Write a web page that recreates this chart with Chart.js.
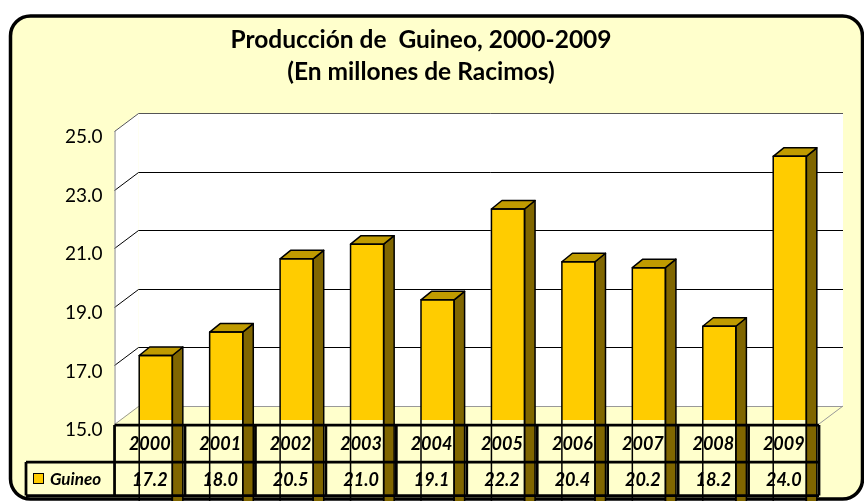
<!DOCTYPE html>
<html>
<head>
<meta charset="utf-8">
<script src="https://cdn.jsdelivr.net/npm/chart.js@4.4.1/dist/chart.umd.min.js"></script>
<style>
  html, body { margin: 0; padding: 0; background: #ffffff; }
  canvas { display: block; }
</style>
</head>
<body>
<canvas id="c" width="864" height="501"></canvas>
<script>
const categories = ['2000', '2001', '2002', '2003', '2004', '2005', '2006', '2007', '2008', '2009'];
const guineo = [17.2, 18.0, 20.5, 21.0, 19.1, 22.2, 20.4, 20.2, 18.2, 24.0];
const yTickValues = [15, 17, 19, 21, 23, 25];
const seriesName = 'Guineo';
const titleLines = ['Producción de  Guineo, 2000-2009', '(En millones de Racimos)'];

const FONT = 'Lato, "Open Sans", "DejaVu Sans", sans-serif';
const DEPTH = { x: 24, y: -18 };      // wall depth
const BAR_SHIFT = { x: 6, y: -4 };    // bar front face position in depth
const BAR_DEPTH = { x: 10.5, y: -8.5 };
const BG = '#FFFFCC';

function roundRect(ctx, x, y, w, h, r) {
  ctx.beginPath();
  ctx.moveTo(x + r, y);
  ctx.lineTo(x + w - r, y);
  ctx.arcTo(x + w, y, x + w, y + r, r);
  ctx.lineTo(x + w, y + h - r);
  ctx.arcTo(x + w, y + h, x + w - r, y + h, r);
  ctx.lineTo(x + r, y + h);
  ctx.arcTo(x, y + h, x, y + h - r, r);
  ctx.lineTo(x, y + r);
  ctx.arcTo(x, y, x + r, y, r);
  ctx.closePath();
}

const scenePlugin = {
  id: 'scene',
  beforeDraw(chart) {
    const ctx = chart.ctx;
    const ca = chart.chartArea;
    const ys = chart.scales.y;
    ctx.save();
    ctx.fillStyle = '#ffffff';
    ctx.fillRect(0, 0, chart.width, chart.height);
    roundRect(ctx, 10.5, 16, 852, 483, 20);
    ctx.fillStyle = BG;
    ctx.fill();
    ctx.lineWidth = 3.5;
    ctx.strokeStyle = '#000';
    ctx.stroke();

    const L = ca.left, R = ca.right, T = ca.top, B = ca.bottom;
    const dx = DEPTH.x, dy = DEPTH.y;
    ctx.fillStyle = '#ffffff';
    ctx.beginPath();
    ctx.moveTo(L, T); ctx.lineTo(L + dx, T + dy); ctx.lineTo(L + dx, B + dy); ctx.lineTo(L, B);
    ctx.closePath(); ctx.fill();
    ctx.fillRect(L + dx, T + dy, R - L, B - T);
    ctx.fillStyle = BG;
    ctx.beginPath();
    ctx.moveTo(L, B); ctx.lineTo(L + dx, B + dy); ctx.lineTo(R + dx, B + dy); ctx.lineTo(R, B);
    ctx.closePath(); ctx.fill();

    ctx.lineWidth = 1;
    yTickValues.forEach(v => {
      const y = Math.round(ys.getPixelForValue(v)) + 0.5;
      ctx.strokeStyle = (v === yTickValues[0]) ? '#999999' : (v === yTickValues[yTickValues.length - 1] ? '#555555' : '#000000');
      ctx.beginPath();
      ctx.moveTo(L, y);
      ctx.lineTo(L + dx, y + dy);
      ctx.lineTo(R + dx, y + dy);
      ctx.stroke();
    });
    ctx.strokeStyle = '#999999';
    ctx.beginPath();
    ctx.moveTo(R, B); ctx.lineTo(R + dx, B + dy);
    ctx.stroke();
    ctx.strokeStyle = '#8c8c8c';
    ctx.beginPath();
    ctx.moveTo(L + 0.5, T); ctx.lineTo(L + 0.5, B);
    ctx.stroke();
    ctx.restore();
  },
  beforeDatasetDraw(chart) {
    chart.ctx.save();
    chart.ctx.translate(BAR_SHIFT.x, BAR_SHIFT.y);
  },
  afterDatasetDraw(chart, args) {
    const ctx = chart.ctx;
    const meta = chart.getDatasetMeta(args.index);
    ctx.lineWidth = 1.5;
    ctx.strokeStyle = '#000';
    ctx.lineJoin = 'round';
    meta.data.forEach(el => {
      const p = el.getProps(['x', 'y', 'base', 'width'], true);
      const xl = p.x - p.width / 2, xr = p.x + p.width / 2;
      const yt = Math.min(p.y, p.base), yb = Math.max(p.y, p.base);
      const dx = BAR_DEPTH.x, dy = BAR_DEPTH.y;
      ctx.fillStyle = '#806600';
      ctx.beginPath();
      ctx.moveTo(xr, yt); ctx.lineTo(xr + dx, yt + dy); ctx.lineTo(xr + dx, yb + dy); ctx.lineTo(xr, yb);
      ctx.closePath(); ctx.fill(); ctx.stroke();
      ctx.fillStyle = '#C09B00';
      ctx.beginPath();
      ctx.moveTo(xl, yt); ctx.lineTo(xl + dx, yt + dy); ctx.lineTo(xr + dx, yt + dy); ctx.lineTo(xr, yt);
      ctx.closePath(); ctx.fill(); ctx.stroke();
      ctx.strokeRect(xl, yt, p.width, yb - yt);
    });
    ctx.restore();
  },
  afterDraw(chart) {
    const ctx = chart.ctx;
    const ca = chart.chartArea;
    const n = categories.length;
    const step = (ca.right - ca.left) / n;
    const r1t = ca.bottom + 1, r1b = 462, r2b = 495.5;
    const legendLeft = 26;
    ctx.save();
    ctx.strokeStyle = '#000';
    ctx.lineWidth = 2.75;
    ctx.beginPath();
    ctx.moveTo(ca.left, r1t); ctx.lineTo(ca.right, r1t);
    ctx.moveTo(legendLeft, r1b); ctx.lineTo(ca.right, r1b);
    ctx.moveTo(legendLeft, r2b); ctx.lineTo(ca.right, r2b);
    ctx.moveTo(legendLeft, r1b); ctx.lineTo(legendLeft, r2b);
    for (let i = 0; i <= n; i++) {
      const x = ca.left + i * step;
      ctx.moveTo(x, r1t); ctx.lineTo(x, r2b);
    }
    ctx.stroke();

    ctx.fillStyle = '#000';
    ctx.font = 'italic bold 18px ' + FONT;
    ctx.textAlign = 'center';
    ctx.textBaseline = 'middle';
    const xs = chart.scales.x;
    categories.forEach((c, i) => {
      const x = xs.getPixelForValue(i);
      ctx.fillText(c, x, (r1t + r1b) / 2 + 1);
      ctx.fillText(guineo[i].toFixed(1), x, (r1b + r2b) / 2 + 1);
    });
    ctx.fillStyle = '#FFCC00';
    ctx.fillRect(33.5, 473.5, 10, 10);
    ctx.lineWidth = 1;
    ctx.strokeRect(33.5, 473.5, 10, 10);
    ctx.fillStyle = '#000';
    ctx.textAlign = 'left';
    ctx.font = 'italic bold 17px ' + FONT;
    ctx.fillText(seriesName, 50, (r1b + r2b) / 2 + 1);
    ctx.restore();
  }
};

new Chart(document.getElementById('c'), {
  type: 'bar',
  data: {
    labels: categories,
    datasets: [{
      label: seriesName,
      data: guineo,
      xAxisID: 'x',
      yAxisID: 'y',
      backgroundColor: '#FFCC00',
      borderColor: '#000000',
      borderWidth: 0,
      borderSkipped: false,
      barPercentage: 0.47,
      categoryPercentage: 1.0
    }]
  },
  options: {
    responsive: false,
    animation: false,
    devicePixelRatio: 1,
    layout: { padding: { left: 23, right: 45, top: 0, bottom: 77 } },
    plugins: {
      legend: { display: false },
      tooltip: { enabled: false },
      title: {
        display: true,
        text: titleLines,
        color: '#000',
        font: { family: FONT, size: 24.5, weight: 'bold', lineHeight: '32px' },
        padding: { top: 24, bottom: 43 }
      }
    },
    scales: {
      x: { display: false },
      y: {
        position: 'left',
        weight: 0,
        min: 15,
        max: 25,
        afterBuildTicks(scale) { scale.ticks = yTickValues.map(v => ({ value: v })); },
        grid: { display: false },
        border: { display: false },
        ticks: {
          padding: 4,
          color: '#000',
          font: { family: FONT, size: 19 },
          labelOffset: 6,
          callback: v => Number(v).toFixed(1)
        }
      },
      spacer: {
        type: 'linear',
        position: 'left',
        weight: 5,
        min: 0,
        max: 1,
        display: true,
        grid: { display: false },
        border: { display: false },
        ticks: { display: false },
        afterFit(scale) { scale.width = 38; }
      }
    }
  },
  plugins: [scenePlugin]
});
</script>
</body>
</html>
